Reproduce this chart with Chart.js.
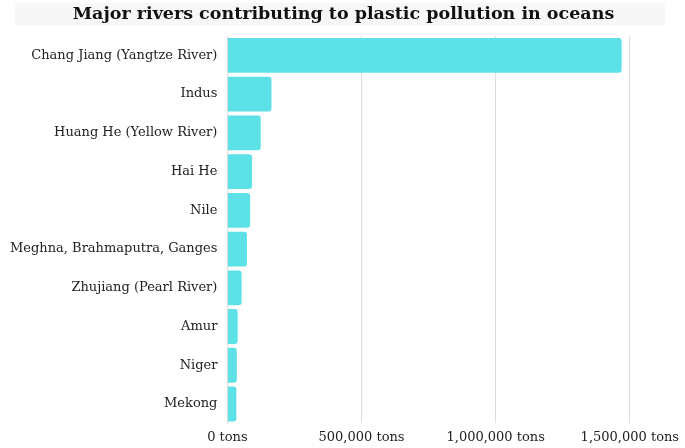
<!DOCTYPE html>
<html>
<head>
<meta charset="utf-8">
<script src="https://cdn.jsdelivr.net/npm/chart.js@4"></script>
<style>
  html, body { margin: 0; padding: 0; background: #fff; }
  #wrap { width: 685px; height: 448px; }
</style>
</head>
<body>
<div id="wrap"><canvas id="grafico"></canvas></div>
<script>
// Dados do gráfico
const rios = ['Chang Jiang (Yangtze River)', 'Indus', 'Huang He (Yellow River)', 'Hai He', 'Nile',
  'Meghna, Brahmaputra, Ganges', 'Zhujiang (Pearl River)', 'Amur', 'Niger', 'Mekong'];
const toneladas = [1469481, 164332, 124249, 91858, 84792, 72845, 52958, 38267, 35196, 33431];
const ticksX = [0, 500000, 1000000, 1500000];

const serif = '"DejaVu Serif", "Liberation Serif", serif';

// fundo cinza atrás do título
const fundoTitulo = {
  id: 'fundoTitulo',
  beforeDraw(chart) {
    const c = chart.ctx;
    c.save();
    c.fillStyle = '#f7f7f7';
    c.fillRect(15, 3, 650, 23);
    c.restore();
  }
};

const ctx = document.getElementById('grafico').getContext('2d');
new Chart(ctx, {
  type: 'bar',
  data: {
    labels: rios,
    datasets: [{
      data: toneladas,
      backgroundColor: '#5ce1e6',
      borderRadius: 3,
      borderSkipped: 'start',
      barPercentage: 0.9,
      categoryPercentage: 1.0
    }]
  },
  options: {
    indexAxis: 'y',
    responsive: true,
    maintainAspectRatio: false,
    animation: false,
    layout: { padding: { left: 0, right: -2, top: 0, bottom: -3 } },
    plugins: {
      legend: { display: false },
      tooltip: { enabled: false },
      title: {
        display: true,
        text: 'Major rivers contributing to plastic pollution in oceans',
        color: '#111',
        font: { family: serif, size: 17.5, weight: 'bold' },
        padding: { top: 4, bottom: 11 }
      }
    },
    scales: {
      x: {
        min: 0,
        max: 1500000,
        afterBuildTicks(axis) {
          axis.ticks = ticksX.map(v => ({ value: v }));
        },
        grid: { color: '#dddddd', drawTicks: false, lineWidth: 1 },
        border: { display: false },
        ticks: {
          color: '#222',
          padding: 6,
          font: { family: serif, size: 13 },
          maxRotation: 0,
          callback: v => v.toLocaleString('en-US') + ' tons'
        }
      },
      y: {
        grid: { display: false, drawTicks: false },
        border: { display: true, color: '#dddddd' },
        ticks: {
          color: '#222',
          padding: 10,
          font: { family: serif, size: 13 }
        }
      }
    }
  },
  plugins: [fundoTitulo]
});
</script>
</body>
</html>
